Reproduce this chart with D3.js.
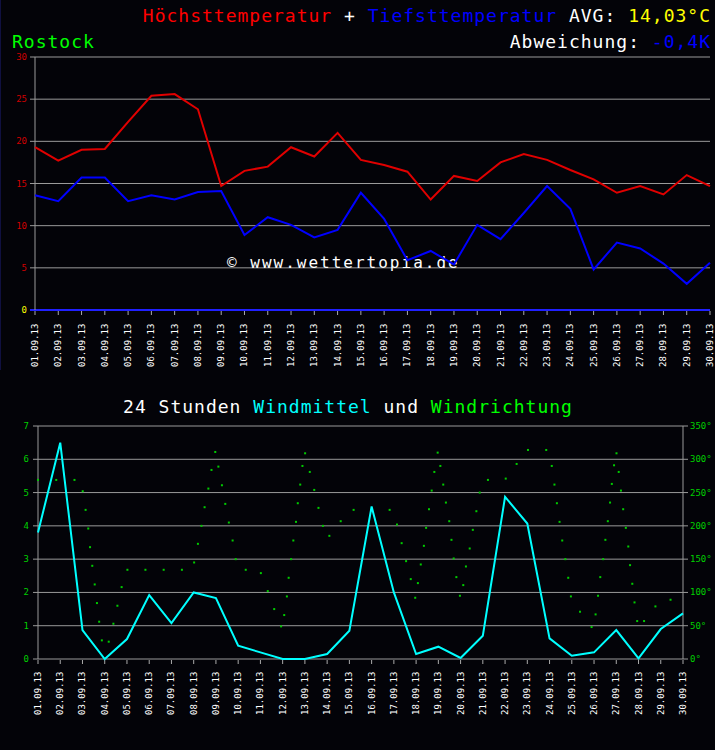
<!DOCTYPE html>
<html><head><meta charset="utf-8">
<script src="https://cdn.jsdelivr.net/npm/d3@7"></script>
<style>body{margin:0;background:#000;}svg{display:block;}</style>
</head><body><svg></svg>
<script>
'use strict';
var days = d3.range(1, 31).map(function(d) { return (d < 10 ? '0' : '') + d + '.09.13'; });
var tMax = [19.3,17.7,19,19.1,22.3,25.4,25.6,23.8,14.7,16.5,17,19.3,18.2,21,17.8,17.2,16.4,13.1,15.9,15.3,17.5,18.5,17.8,16.6,15.5,13.9,14.7,13.7,16,14.7];
var tMin = [13.6,12.9,15.7,15.7,12.9,13.6,13.1,14,14.1,8.9,11,10.1,8.6,9.5,13.9,10.8,5.9,7,5.4,10.1,8.4,11.5,14.7,12,4.8,8,7.3,5.5,3.1,5.6];
var wind = [3.8,6.5,0.87,0,0.6,1.92,1.08,2.0,1.83,0.4,0.2,0,0,0.15,0.85,4.58,2.0,0.15,0.37,0.03,0.7,4.87,4.07,0.62,0.1,0.2,0.87,0.02,0.9,1.37];
// wind direction samples: position in days from the 1st, degrees
var dirDay = [0,0.82,1.64,2.01,2.14,2.26,2.34,2.44,2.55,2.65,2.75,2.87,3.18,3.39,3.57,3.76,4.02,4.83,5.65,6.47,7.02,7.19,7.35,7.49,7.66,7.80,7.97,8.11,8.27,8.42,8.58,8.75,8.89,9.34,10.02,10.33,10.62,10.93,11.07,11.19,11.27,11.38,11.48,11.60,11.68,11.79,11.89,12.01,12.22,12.42,12.61,12.81,13.10,13.61,14.19,14.99,15.81,16.14,16.35,16.55,16.76,16.96,17.08,17.21,17.35,17.45,17.58,17.70,17.82,17.97,18.09,18.22,18.34,18.49,18.59,18.69,18.81,18.97,19.12,19.24,19.41,19.55,19.71,19.86,20.23,21.03,21.52,22.03,22.85,23.10,23.22,23.33,23.45,23.57,23.71,23.84,23.96,24.37,24.89,25.07,25.18,25.28,25.41,25.51,25.62,25.72,25.80,25.90,26.01,26.11,26.21,26.31,26.43,26.54,26.62,26.72,26.82,26.94,27.25,27.76,28.44];
var dirDeg = [269,269,269,252,224,196,168,140,112,84,56,28,26,53,80,108,134,134,134,134,145,173,200,228,256,284,311,289,261,233,205,178,150,134,129,102,75,49,66,94,122,150,178,206,234,262,290,309,281,254,227,200,185,207,224,224,224,202,174,147,120,92,114,142,170,197,225,253,281,310,290,262,235,207,179,151,123,95,111,139,166,194,222,250,269,271,293,314,314,290,262,234,206,178,150,122,94,71,48,67,95,123,150,179,207,235,263,291,309,281,253,225,197,169,141,113,85,57,57,79,89];
var tempTicks = [0,5,10,15,20,25,30];
var windTicks = [0,1,2,3,4,5,6,7];
var dirTicks = [0,50,100,150,200,250,300,350];

var font = 'DejaVu Sans Mono, monospace';
var svg = d3.select('svg').attr('width', 715).attr('height', 750);
svg.append('rect').attr('width', 715).attr('height', 750).attr('fill', '#030308');
svg.append('line').attr('x1', 0.5).attr('x2', 0.5).attr('y1', 0).attr('y2', 370).attr('stroke', '#101040');

function header(x, y, parts, anchor, size) {
  var t = svg.append('text').attr('x', x).attr('y', y).attr('text-anchor', anchor)
    .attr('font-family', font).attr('font-size', size).attr('letter-spacing', 1.0);
  parts.forEach(function(p) { t.append('tspan').attr('fill', p[1]).text(p[0]); });
}
header(711, 22, [['Höchsttemperatur', '#ff0000'], [' + ', '#fff'], ['Tiefsttemperatur', '#0000ff'], [' AVG: ', '#fff'], ['14,03°C', '#ffff00']], 'end', 18);
header(12, 48, [['Rostock', '#00ff00']], 'start', 18);
header(711, 48, [['Abweichung:   ', '#fff'], ['-0,4K', '#0000ff']], 'end', 18);
header(348, 413, [['24 Stunden ', '#fff'], ['Windmittel', '#00ffff'], [' und ', '#fff'], ['Windrichtung', '#00ff00']], 'middle', 18);

function dayLabels(g, x, axisY, y0) {
  g.selectAll('.lab').data(days).enter().append('text')
    .attr('transform', function(d, i) { return 'translate(' + (x(i) + 3) + ',' + y0 + ') rotate(-90)'; })
    .attr('text-anchor', 'start').attr('font-family', font).attr('font-size', 9).attr('fill', '#fff')
    .text(function(d) { return d; });
  g.selectAll('.tk').data(days).enter().append('line')
    .attr('x1', function(d, i) { return x(i); }).attr('x2', function(d, i) { return x(i); })
    .attr('y1', axisY).attr('y2', axisY + 4).attr('stroke', '#aaa');
}

// top chart
var x1 = d3.scaleLinear().domain([0, 29]).range([35, 710]);
var y1 = d3.scaleLinear().domain([0, 30]).range([310, 57]);
var g1 = svg.append('g');
g1.selectAll('.grid').data(tempTicks).enter().append('line')
  .attr('x1', 30).attr('x2', 710).attr('y1', y1).attr('y2', y1)
  .attr('stroke', function(d) { return d === 0 ? '#2020ff' : '#9a9a9a'; })
  .attr('stroke-width', function(d) { return d === 0 ? 2 : 1; });
g1.append('line').attr('x1', 35).attr('x2', 35).attr('y1', 57).attr('y2', 310).attr('stroke', '#9a9a9a');
g1.selectAll('.yl').data(tempTicks).enter().append('text')
  .attr('x', 27).attr('y', function(d) { return y1(d) + 3; }).attr('text-anchor', 'end')
  .attr('font-family', font).attr('font-size', 9)
  .attr('fill', function(d) { return d === 0 ? '#ffff00' : '#d00000'; }).text(function(d) { return d; });
dayLabels(g1, x1, 311, 367);
g1.append('text').attr('x', 227).attr('y', 268).attr('font-family', font).attr('font-size', 16)
  .attr('letter-spacing', 2.0).attr('fill', '#fff').text('© www.wettertopia.de');
var line1 = d3.line().x(function(d, i) { return x1(i); }).y(function(d) { return y1(d); });
g1.append('path').datum(tMin).attr('d', line1).attr('fill', 'none').attr('stroke', '#0000ff').attr('stroke-width', 2);
g1.append('path').datum(tMax).attr('d', line1).attr('fill', 'none').attr('stroke', '#e00000').attr('stroke-width', 2);

// bottom chart
var x2 = d3.scaleLinear().domain([0, 29]).range([38, 683]);
var y2 = d3.scaleLinear().domain([0, 7]).range([659, 426]);
var yd = d3.scaleLinear().domain([0, 350]).range([659, 426]);
var g2 = svg.append('g');
g2.selectAll('.grid').data(windTicks).enter().append('line')
  .attr('x1', 33).attr('x2', 688).attr('y1', y2).attr('y2', y2).attr('stroke', '#9a9a9a');
g2.append('line').attr('x1', 38).attr('x2', 38).attr('y1', 426).attr('y2', 659).attr('stroke', '#9a9a9a');
g2.append('line').attr('x1', 683).attr('x2', 683).attr('y1', 426).attr('y2', 659).attr('stroke', '#9a9a9a');
g2.selectAll('.yl').data(windTicks).enter().append('text')
  .attr('x', 29).attr('y', function(d) { return y2(d) + 3; }).attr('text-anchor', 'end')
  .attr('font-family', font).attr('font-size', 9).attr('fill', '#00d000').text(function(d) { return d; });
g2.selectAll('.dl').data(dirTicks).enter().append('text')
  .attr('x', 690).attr('y', function(d) { return yd(d) + 3; })
  .attr('font-family', font).attr('font-size', 9).attr('fill', '#00d000').text(function(d) { return d + '°'; });
dayLabels(g2, x2, 660, 715);
g2.selectAll('.dot').data(dirDay).enter().append('rect')
  .attr('x', function(d) { return x2(d) - 1; }).attr('y', function(d, i) { return yd(dirDeg[i]) - 1; })
  .attr('width', 2).attr('height', 2).attr('fill', '#00cc00');
var line2 = d3.line().x(function(d, i) { return x2(i); }).y(function(d) { return y2(d); });
g2.append('path').datum(wind).attr('d', line2).attr('fill', 'none').attr('stroke', '#00ffff').attr('stroke-width', 2);
</script></body></html>
